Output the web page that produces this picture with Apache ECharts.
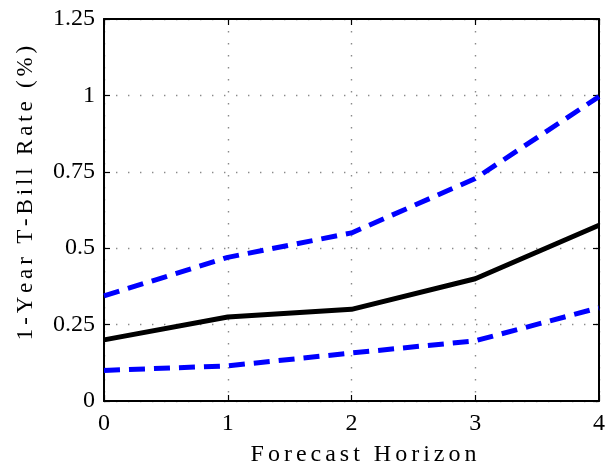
<!DOCTYPE html>
<html>
<head>
<meta charset="utf-8">
<script src="https://cdn.jsdelivr.net/npm/echarts@6/dist/echarts.min.js"></script>
<style>
  html, body { margin: 0; padding: 0; background: #fff; }
  #chart { width: 608px; height: 472px; }
</style>
</head>
<body>
<div id="chart"></div>
<script>
// Forecast horizons (x) and 1-year T-bill rate forecast with its bands
var horizons = [0, 1, 2, 3, 4];
var median = [0.200, 0.275, 0.300, 0.400, 0.575];
var upperBand = [0.344, 0.470, 0.550, 0.728, 0.996];
var lowerBand = [0.100, 0.115, 0.157, 0.197, 0.305];
var yTicks = [0, 0.25, 0.5, 0.75, 1, 1.25];

var serif = '"Liberation Serif", "DejaVu Serif", serif';
// six-per-em spaces give the spaced-out look of the axis titles
function spaced(s) { return s.split('').join('\u2006'); }

function pairs(ys) { return horizons.map(function (x, i) { return [x, ys[i]]; }); }

var gridLine = { show: true, lineStyle: { color: '#8a8a8a', width: 1.4, type: [1.4, 10.6] } };
var boxLine = { show: true, onZero: false, lineStyle: { color: '#000', width: 2 } };
var tick = { show: true, inside: true, length: 6, lineStyle: { color: '#000', width: 1.2 } };

var chart = echarts.init(document.getElementById('chart'), null, { renderer: 'canvas' });
chart.setOption({
  animation: false,
  backgroundColor: '#fff',
  grid: { left: 104, right: 4, top: 19, bottom: 69, containLabel: false },
  xAxis: [{
    type: 'value', min: 0, max: 4, interval: 1,
    name: spaced('Forecast Horizon'), nameLocation: 'middle', nameGap: 42,
    nameTextStyle: { fontFamily: serif, fontSize: 24, color: '#000', padding: [0, 0, 0, 24] },
    axisLine: boxLine, axisTick: tick, splitLine: gridLine,
    axisLabel: { fontFamily: serif, fontSize: 24, color: '#000', margin: 11 }
  }, {
    type: 'value', min: 0, max: 4, interval: 1, position: 'top',
    axisLine: boxLine, axisTick: tick, splitLine: { show: false },
    axisLabel: { show: false }
  }],
  yAxis: [{
    type: 'value', min: 0, max: 1.25, interval: 0.25,
    name: spaced('1-Year T-Bill Rate (%)'), nameLocation: 'middle', nameGap: 67,
    nameTextStyle: { fontFamily: serif, fontSize: 23, color: '#000', padding: [0, 0, 0, 34] },
    axisLine: boxLine, axisTick: tick, splitLine: gridLine,
    axisLabel: {
      fontFamily: serif, fontSize: 24, color: '#000', margin: 9,
      formatter: function (v) {
        var t = yTicks.find(function (k) { return Math.abs(k - v) < 1e-9; });
        return t === undefined ? '' : String(t);
      }
    }
  }, {
    type: 'value', min: 0, max: 1.25, interval: 0.25, position: 'right',
    axisLine: boxLine, axisTick: tick, splitLine: { show: false },
    axisLabel: { show: false }
  }],
  series: [{
    type: 'line', data: pairs(upperBand), showSymbol: false, z: 3,
    lineStyle: { color: '#0000ff', width: 5, type: [16, 9] }
  }, {
    type: 'line', data: pairs(lowerBand), showSymbol: false, z: 3,
    lineStyle: { color: '#0000ff', width: 5, type: [16, 9] }
  }, {
    type: 'line', data: pairs(median), showSymbol: false, z: 4,
    lineStyle: { color: '#000', width: 5 }
  }]
});
</script>
</body>
</html>
